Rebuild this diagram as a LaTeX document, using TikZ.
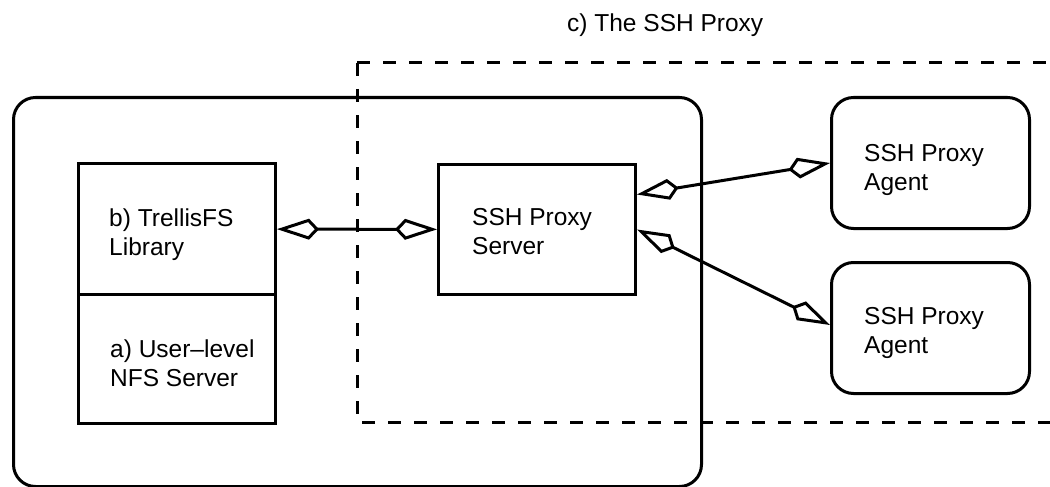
\documentclass[tikz,border=0pt]{standalone}
\usepackage{fontspec}
\setmainfont{Liberation Sans}
\usetikzlibrary{arrows.meta}

\tikzset{
  frame/.style={draw, line width=3pt, inner sep=0pt, anchor=north west},
  roundframe/.style={frame, rounded corners=22pt},
  textsize/.style={font=\fontsize{24.5pt}{29pt}\selectfont},
  label/.style={textsize, anchor=north west, inner sep=0pt, align=left},
  link/.style={line width=3pt, line join=miter},
  kite/.tip={Kite[open, length=42pt, width=21pt, inset=10pt]},
  zone/.style={line width=3pt, dash pattern=on 13pt off 13pt},
}

\begin{document}
\begin{tikzpicture}[x=1pt, y=-1pt]
  \useasboundingbox (0,0) rectangle (1050,487);
  \clip (0,0) rectangle (1050,487);

  % outer host enclosing the NFS server stack
  \node[roundframe, minimum width=688pt, minimum height=389pt] (host) at (12,96) {};

  % proxy region, open on the right
  \draw[zone] (357,63) -- (1062,63);
  \draw[zone] (357,63) -- (357,422) -- (1062,422);
  \node[textsize, anchor=base west, inner sep=0pt] (title) at (567,32) {c) The SSH Proxy};

  % server stack
  \node[frame, minimum width=197pt, minimum height=131pt] (lib) at (77,162) {};
  \node[frame, minimum width=197pt, minimum height=129pt] (nfs) at (77,293) {};
  \node[label] (libtext) at (109,208.3) {b) TrellisFS\\Library};
  \node[label] (nfstext) at (110,339.3) {a) User–level\\NFS Server};

  % proxy server
  \node[frame, minimum width=197pt, minimum height=130pt] (srv) at (437,163) {};
  \node[label] (srvtext) at (472,208.3) {SSH Proxy\\Server};

  % proxy agents
  \node[roundframe, minimum width=198pt, minimum height=131pt] (ag1) at (830,96) {};
  \node[roundframe, minimum width=198pt, minimum height=131pt] (ag2) at (830,261) {};
  \node[label] (ag1text) at (864,144.3) {SSH Proxy\\Agent};
  \node[label] (ag2text) at (864,307.5) {SSH Proxy\\Agent};

  % connections
  \draw[link, kite-kite] (lib) -- (srv);
  \draw[link, kite-kite] ([yshift=35pt]srv.east) -- (ag1.west);
  \draw[link, kite-kite] (srv.east) -- ([yshift=3pt]ag2.west);
\end{tikzpicture}
\end{document}
